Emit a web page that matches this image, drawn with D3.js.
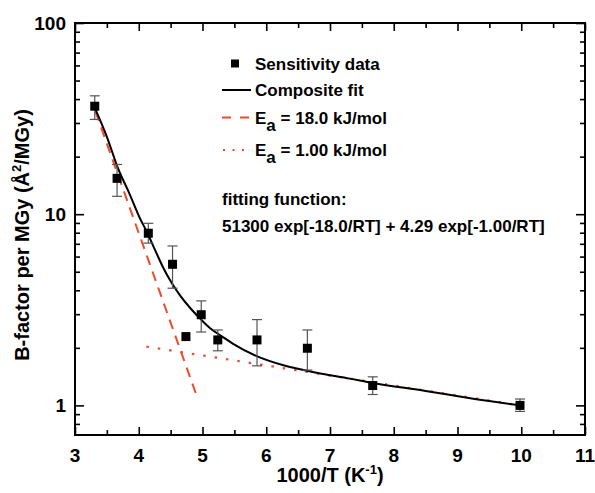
<!DOCTYPE html>
<html><head><meta charset="utf-8">
<script src="https://cdn.jsdelivr.net/npm/d3@7"></script>
<style>
html,body{margin:0;padding:0;background:#fff;}
text{font-family:"Liberation Sans",Arial,sans-serif;font-weight:bold;fill:#000;}
</style></head>
<body>
<svg id="chart" width="595" height="493"></svg>
<script>
// ---- data ----
const dataX   = [3.31, 3.66, 4.15, 4.53, 4.74, 4.98, 5.24, 5.855, 6.645, 7.67, 9.98];
const dataY   = [36.7, 15.4, 7.95, 5.47, 2.29, 2.98, 2.20, 2.20, 1.99, 1.27, 1.00];
const errHigh = [41.6, 18.2, 8.96, 6.82, null, 3.52, 2.48, 2.81, 2.48, 1.41, 1.08];
const errLow  = [31.3, 12.4, 7.06, 4.10, null, 2.42, 1.93, 1.61, 1.53, 1.14, 0.93];

const fitX = [3.31, 3.5, 3.68, 3.85, 4.02, 4.13, 4.26, 4.39, 4.52, 4.65, 4.8, 4.96, 5.12, 5.3, 5.48, 5.85, 6.27, 6.79, 7.31, 7.67, 8.5, 9.2, 9.98];
const fitY = [36.0, 25.4, 17.2, 12.9, 9.5, 8.05, 6.45, 5.2, 4.35, 3.75, 3.25, 2.85, 2.53, 2.30, 2.10, 1.81, 1.62, 1.48, 1.38, 1.31, 1.19, 1.09, 1.00];

const highEaX = [3.32, 4.91];
const highEaY = [34.5, 1.12];
const lowEaX  = [4.12, 9.98];
const lowEaY  = [2.03, 1.00];

const xTicks = [3, 4, 5, 6, 7, 8, 9, 10, 11];
const xMinor = [3.5, 4.5, 5.5, 6.5, 7.5, 8.5, 9.5, 10.5];
const yTicks = [1, 10, 100];
const yMinor = [0.8, 0.9, 2, 3, 4, 5, 6, 7, 8, 9, 20, 30, 40, 50, 60, 70, 80, 90];

const legendLabels = ["Sensitivity data", "Composite fit", "= 18.0 kJ/mol", "= 1.00 kJ/mol"];
const fitText1 = "fitting function:";
const fitText2 = "51300 exp[-18.0/RT] + 4.29 exp[-1.00/RT]";

// ---- layout ----
const L = 75, R = 585, T = 23, B = 435;
const red = "#ee4a2c";
const svg = d3.select("#chart");
const x = d3.scaleLinear().domain([3, 11]).range([L, R]);
const y = d3.scaleLog().domain([0.7, 100]).range([B, T]);

// axes (ticks inward, mirrored)
const tickStyle = g => { g.select(".domain").remove(); g.selectAll("line").attr("stroke", "#000").attr("stroke-width", 1.6); };
svg.append("g").attr("transform", `translate(0,${B})`)
  .call(d3.axisTop(x).tickValues(xTicks).tickSize(8).tickFormat("")).call(tickStyle);
svg.append("g").attr("transform", `translate(0,${B})`)
  .call(d3.axisTop(x).tickValues(xMinor).tickSize(5).tickFormat("")).call(tickStyle);
svg.append("g").attr("transform", `translate(0,${T})`)
  .call(d3.axisBottom(x).tickValues(xTicks).tickSize(8).tickFormat("")).call(tickStyle);
svg.append("g").attr("transform", `translate(0,${T})`)
  .call(d3.axisBottom(x).tickValues(xMinor).tickSize(5).tickFormat("")).call(tickStyle);
svg.append("g").attr("transform", `translate(${L},0)`)
  .call(d3.axisRight(y).tickValues(yTicks).tickSize(9).tickFormat("")).call(tickStyle);
svg.append("g").attr("transform", `translate(${L},0)`)
  .call(d3.axisRight(y).tickValues(yMinor).tickSize(5).tickFormat("")).call(tickStyle);
svg.append("g").attr("transform", `translate(${R},0)`)
  .call(d3.axisLeft(y).tickValues(yTicks).tickSize(9).tickFormat("")).call(tickStyle);
svg.append("g").attr("transform", `translate(${R},0)`)
  .call(d3.axisLeft(y).tickValues(yMinor).tickSize(5).tickFormat("")).call(tickStyle);

svg.append("rect").attr("x", L).attr("y", T).attr("width", R - L).attr("height", B - T)
  .attr("fill", "none").attr("stroke", "#000").attr("stroke-width", 2);

// tick labels
svg.append("g").selectAll("text").data(xTicks).join("text")
  .attr("x", d => x(d)).attr("y", B + 27).attr("text-anchor", "middle")
  .attr("font-size", 19).text(d => d);
svg.append("g").selectAll("text").data(yTicks).join("text")
  .attr("x", L - 9).attr("y", d => y(d) + 7).attr("text-anchor", "end")
  .attr("font-size", 19).text(d => d);

// axis titles
const xt = svg.append("text").attr("x", 330).attr("y", 482).attr("text-anchor", "middle").attr("font-size", 20);
xt.append("tspan").text("1000/T (K");
xt.append("tspan").attr("font-size", 13).attr("dy", -8).text("-1");
xt.append("tspan").attr("dy", 8).text(")");

const yt = svg.append("text").attr("transform", "translate(29,235) rotate(-90)").attr("text-anchor", "middle").attr("font-size", 20);
yt.append("tspan").text("B-factor per MGy (Å");
yt.append("tspan").attr("font-size", 13).attr("dy", -8).text("2");
yt.append("tspan").attr("dy", 8).text("/MGy)");

// lines
const line = d3.line().x(d => x(d[0])).y(d => y(d[1]));
svg.append("path").datum(highEaX.map((v, i) => [v, highEaY[i]]))
  .attr("d", line).attr("fill", "none").attr("stroke", red).attr("stroke-width", 2).attr("stroke-dasharray", "10,7");
svg.append("path").datum(lowEaX.map((v, i) => [v, lowEaY[i]]))
  .attr("d", line).attr("fill", "none").attr("stroke", red).attr("stroke-width", 2.2).attr("stroke-dasharray", "2.5,9");
svg.append("path").datum(fitX.map((v, i) => [v, fitY[i]]))
  .attr("d", line.curve(d3.curveMonotoneX)).attr("fill", "none").attr("stroke", "#000").attr("stroke-width", 2);

// error bars
const eb = svg.append("g").attr("stroke", "#555").attr("stroke-width", 1.2);
dataX.forEach((v, i) => {
  if (errHigh[i] == null) return;
  const cx = x(v);
  eb.append("line").attr("x1", cx).attr("x2", cx).attr("y1", y(errHigh[i])).attr("y2", y(errLow[i]));
  eb.append("line").attr("x1", cx - 5).attr("x2", cx + 5).attr("y1", y(errHigh[i])).attr("y2", y(errHigh[i]));
  eb.append("line").attr("x1", cx - 5).attr("x2", cx + 5).attr("y1", y(errLow[i])).attr("y2", y(errLow[i]));
});

// markers
svg.append("g").selectAll("rect").data(dataX).join("rect")
  .attr("x", d => x(d) - 4.5).attr("y", (d, i) => y(dataY[i]) - 4.5)
  .attr("width", 9).attr("height", 9).attr("fill", "#000");

// legend
const lg = svg.append("g");
lg.append("rect").attr("x", 231).attr("y", 59.5).attr("width", 8).attr("height", 8).attr("fill", "#000");
lg.append("text").attr("x", 255).attr("y", 70).attr("font-size", 17).text(legendLabels[0]);
lg.append("line").attr("x1", 222).attr("x2", 251).attr("y1", 90).attr("y2", 90).attr("stroke", "#000").attr("stroke-width", 2);
lg.append("text").attr("x", 255).attr("y", 96).attr("font-size", 17).text(legendLabels[1]);
lg.append("line").attr("x1", 222).attr("x2", 251).attr("y1", 117.5).attr("y2", 117.5).attr("stroke", red).attr("stroke-width", 2).attr("stroke-dasharray", "9,9");
const l3 = lg.append("text").attr("x", 255).attr("y", 124).attr("font-size", 17);
l3.append("tspan").text("E");
l3.append("tspan").attr("dy", 7).text("a");
l3.append("tspan").attr("dy", -7).text(" " + legendLabels[2]);
lg.append("line").attr("x1", 223).attr("x2", 251).attr("y1", 150).attr("y2", 150).attr("stroke", red).attr("stroke-width", 2).attr("stroke-dasharray", "2,7.5");
const l4 = lg.append("text").attr("x", 255).attr("y", 156).attr("font-size", 17);
l4.append("tspan").text("E");
l4.append("tspan").attr("dy", 7).text("a");
l4.append("tspan").attr("dy", -7).text(" " + legendLabels[3]);

svg.append("text").attr("x", 222).attr("y", 205).attr("font-size", 17).text(fitText1);
svg.append("text").attr("x", 222).attr("y", 232).attr("font-size", 17).text(fitText2);
</script>
</body></html>
